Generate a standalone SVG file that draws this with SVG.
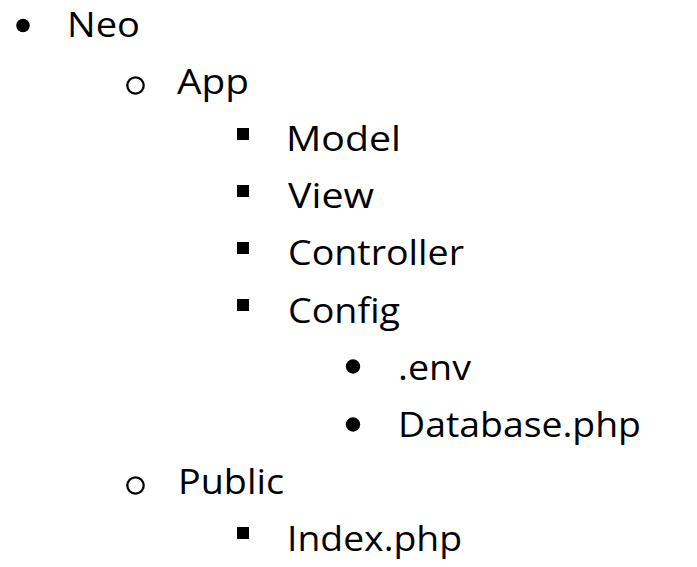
<svg xmlns="http://www.w3.org/2000/svg" width="697" height="567" viewBox="0 0 697 567">
<style>
text{font-family:"Open Sans","Liberation Sans",sans-serif;font-size:34px;fill:#000}
.dot{fill:#000}
.ring{fill:none;stroke:#000;stroke-width:2.3}
.sq{fill:#000}
</style>
<rect width="697" height="567" fill="#fff"/>
<g id="neo"><circle class="dot" cx="23" cy="25.5" r="6.8"/><text x="67" y="36.6" textLength="73" lengthAdjust="spacingAndGlyphs">Neo</text></g>
<g id="app"><circle class="ring" cx="135.5" cy="85.5" r="8.2"/><text x="177" y="93.8" textLength="72" lengthAdjust="spacingAndGlyphs">App</text></g>
<g id="model"><rect class="sq" x="237" y="128" width="12" height="12"/><text x="286" y="151" textLength="115" lengthAdjust="spacingAndGlyphs">Model</text></g>
<g id="view"><rect class="sq" x="237" y="185" width="12" height="12"/><text x="288" y="208.2" textLength="86" lengthAdjust="spacingAndGlyphs">View</text></g>
<g id="controller"><rect class="sq" x="237" y="242" width="12" height="12"/><text x="288" y="265.4" textLength="176" lengthAdjust="spacingAndGlyphs">Controller</text></g>
<g id="config"><rect class="sq" x="237" y="299" width="12" height="12"/><text x="288" y="322.6" textLength="112" lengthAdjust="spacingAndGlyphs">Config</text></g>
<g id="env"><circle class="dot" cx="353" cy="366.5" r="7.2"/><text x="398" y="379.8" textLength="73" lengthAdjust="spacingAndGlyphs">.env</text></g>
<g id="database"><circle class="dot" cx="353" cy="424.5" r="7.2"/><text x="398" y="437" textLength="243" lengthAdjust="spacingAndGlyphs">Database.php</text></g>
<g id="public"><circle class="ring" cx="135.5" cy="485.5" r="8.2"/><text x="178" y="494.2" textLength="106" lengthAdjust="spacingAndGlyphs">Public</text></g>
<g id="index"><rect class="sq" x="237" y="527" width="12" height="12"/><text x="287" y="551.4" textLength="175" lengthAdjust="spacingAndGlyphs">Index.php</text></g>
<g id="connectors"/>
</svg>
